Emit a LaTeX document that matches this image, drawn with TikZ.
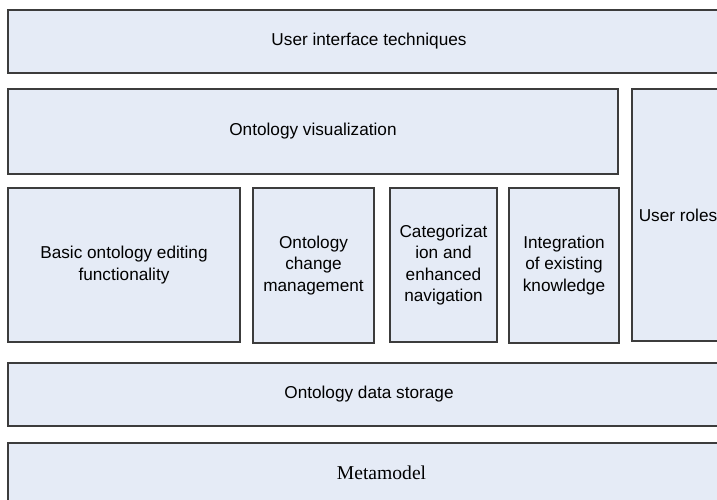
\documentclass[tikz,border=0pt]{standalone}
\usepackage{fontspec}
\setmainfont{Liberation Sans}
\newfontfamily\metafont{Liberation Serif}
\definecolor{boxfill}{RGB}{229,235,246}
\definecolor{boxline}{RGB}{60,60,60}
\tikzset{
  layer/.style={draw=boxline, fill=boxfill, line width=1.1pt, inner sep=0pt,
    align=center, font=\fontsize{17.2}{21.3}\selectfont},
}
\begin{document}
\begin{tikzpicture}[x=1pt,y=-1pt]
  \path[use as bounding box, clip] (0,0) rectangle (717,500);
  \fill[white] (0,0) rectangle (717,500);
  % layers spanning the width
  \node[layer, minimum width=722pt, minimum height=63pt] (ui) at (369,41.5) {User interface techniques};
  \node[layer, minimum width=610pt, minimum height=85pt] (vis) at (313,131.5) {Ontology visualization};
  \node[layer, minimum width=92pt, minimum height=252pt] (roles) at (678,215) {User roles};
  % functional modules
  \node[layer, minimum width=232pt, minimum height=154pt] (basic) at (124,265) {Basic ontology editing\\functionality};
  \node[layer, minimum width=121pt, minimum height=155pt] (change) at (313.5,265.5) {Ontology\\change\\management};
  \node[layer, minimum width=107pt, minimum height=154pt] (categ) at (443.5,265) {Categorizat\\ion and\\enhanced\\navigation};
  \node[layer, minimum width=110pt, minimum height=155pt] (integ) at (564,265.5) {Integration\\of existing\\knowledge};
  % storage
  \node[layer, minimum width=722pt, minimum height=63pt] (store) at (369,394.5) {Ontology data storage};
  \node[layer, minimum width=747pt, minimum height=59pt, font=\metafont\fontsize{19.6}{22}\selectfont] (meta) at (381.5,472.5) {Metamodel};
\end{tikzpicture}
\end{document}
